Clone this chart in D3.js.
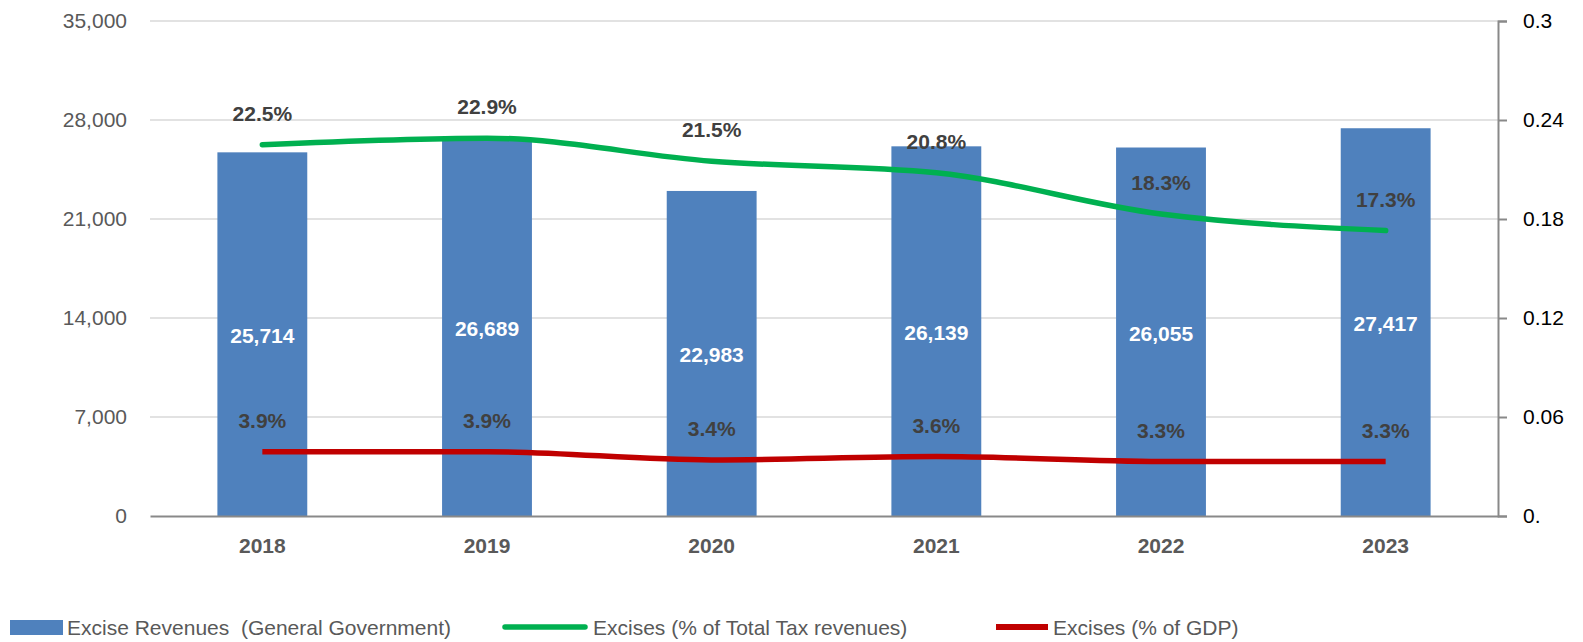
<!DOCTYPE html>
<html>
<head>
<meta charset="utf-8">
<script src="https://cdn.jsdelivr.net/npm/d3@7"></script>
<style>
  html, body { margin: 0; padding: 0; background: #fff; }
  svg { display: block; font-family: "Liberation Sans", Arial, sans-serif; }
  text { white-space: pre; }
</style>
</head>
<body>
<svg id="chart" width="1583" height="642"></svg>
<script>
const years = ["2018", "2019", "2020", "2021", "2022", "2023"];
const exciseRevenues = [25714, 26689, 22983, 26139, 26055, 27417];
const pctTotalTax = [0.225, 0.229, 0.215, 0.208, 0.183, 0.173];
const pctGDP = [0.039, 0.039, 0.034, 0.036, 0.033, 0.033];
const leftTicks = [0, 7000, 14000, 21000, 28000, 35000];
const rightTicks = [0, 0.06, 0.12, 0.18, 0.24, 0.3];
const rightTickLabels = ["0.", "0.06", "0.12", "0.18", "0.24", "0.3"];
const seriesNames = ["Excise Revenues  (General Government)", "Excises (% of Total Tax revenues)", "Excises (% of GDP)"];

const svg = d3.select("#chart");
const pLeft = 150, pRight = 1498, pTop = 21, pBottom = 516;

const x = d3.scaleBand().domain(years).range([pLeft, pRight]).paddingInner(0.6).paddingOuter(0.3);
const yL = d3.scaleLinear().domain([0, 35000]).range([pBottom, pTop]);
const yR = d3.scaleLinear().domain([0, 0.3]).range([pBottom, pTop]);

// gridlines
svg.append("g").selectAll("line").data(leftTicks.filter(d => d > 0)).join("line")
  .attr("x1", pLeft).attr("x2", pRight)
  .attr("y1", d => yL(d)).attr("y2", d => yL(d))
  .attr("stroke", "#d9d9d9").attr("stroke-width", 1.5);

// left axis labels
const axL = svg.append("g").attr("transform", `translate(${pLeft},0)`)
  .call(d3.axisLeft(yL).tickValues(leftTicks).tickSize(0).tickPadding(23).tickFormat(d3.format(",")));
axL.select(".domain").remove();
axL.selectAll("text").attr("font-size", 21).attr("fill", "#595959").attr("font-family", "Liberation Sans, Arial, sans-serif");

// bars
svg.append("g").selectAll("rect").data(years).join("rect")
  .attr("x", d => x(d)).attr("width", x.bandwidth())
  .attr("y", (d, i) => yL(exciseRevenues[i]))
  .attr("height", (d, i) => pBottom - yL(exciseRevenues[i]))
  .attr("fill", "#4f81bd");

// bottom axis
const axB = svg.append("g").attr("transform", `translate(0,${pBottom})`)
  .call(d3.axisBottom(x).tickSize(0).tickPadding(22));
axB.select(".domain").attr("stroke", "#898989").attr("stroke-width", 2);
axB.selectAll("text").attr("font-size", 21).attr("font-weight", "bold").attr("fill", "#595959").attr("font-family", "Liberation Sans, Arial, sans-serif");

// right axis
const axR = svg.append("g").attr("transform", `translate(${pRight},0)`)
  .call(d3.axisRight(yR).tickValues(rightTicks).tickSize(9).tickPadding(16)
    .tickFormat((d, i) => rightTickLabels[i]));
axR.select(".domain").attr("stroke", "#898989").attr("stroke-width", 2);
axR.selectAll(".tick line").attr("stroke", "#898989").attr("stroke-width", 2);
axR.selectAll("text").attr("font-size", 21).attr("fill", "#000").attr("font-family", "Liberation Sans, Arial, sans-serif");

const cx = d => x(d) + x.bandwidth() / 2;

// lines
const lineTot = d3.line().x((d, i) => cx(years[i])).y(d => yR(d)).curve(d3.curveMonotoneX);
svg.append("path").datum(pctTotalTax).attr("d", lineTot)
  .attr("fill", "none").attr("stroke", "#00b050").attr("stroke-width", 5.5).attr("stroke-linecap", "round");

const lineGdp = d3.line().x((d, i) => cx(years[i])).y(d => yR(d)).curve(d3.curveMonotoneX);
svg.append("path").datum(pctGDP).attr("d", lineGdp)
  .attr("fill", "none").attr("stroke", "#c00000").attr("stroke-width", 5.5);

// bar labels
svg.append("g").selectAll("text").data(years).join("text")
  .attr("x", d => cx(d))
  .attr("y", (d, i) => (yL(exciseRevenues[i]) + pBottom) / 2 + 9)
  .attr("text-anchor", "middle").attr("font-size", 21).attr("font-weight", "bold").attr("fill", "#fff")
  .text((d, i) => d3.format(",")(exciseRevenues[i]));

const pf = d3.format(".1%");
svg.append("g").selectAll("text").data(years).join("text")
  .attr("x", d => cx(d))
  .attr("y", (d, i) => yR(pctTotalTax[i]) - 31 + 7)
  .attr("text-anchor", "middle").attr("font-size", 21).attr("font-weight", "bold").attr("fill", "#404040")
  .text((d, i) => pf(pctTotalTax[i]));

svg.append("g").selectAll("text").data(years).join("text")
  .attr("x", d => cx(d))
  .attr("y", (d, i) => yR(pctGDP[i]) - 31 + 7)
  .attr("text-anchor", "middle").attr("font-size", 21).attr("font-weight", "bold").attr("fill", "#404040")
  .text((d, i) => pf(pctGDP[i]));

// legend
const lg = svg.append("g");
lg.append("rect").attr("x", 10).attr("y", 620).attr("width", 53).attr("height", 15).attr("fill", "#4f81bd");
lg.append("line").attr("x1", 505).attr("x2", 585).attr("y1", 627).attr("y2", 627)
  .attr("stroke", "#00b050").attr("stroke-width", 5.5).attr("stroke-linecap", "round");
lg.append("line").attr("x1", 996).attr("x2", 1048).attr("y1", 627).attr("y2", 627)
  .attr("stroke", "#c00000").attr("stroke-width", 6);
const legX = [67, 593, 1053];
lg.selectAll("text").data(seriesNames).join("text")
  .attr("x", (d, i) => legX[i]).attr("y", 635)
  .attr("font-size", 21).attr("fill", "#595959")
  .text(d => d);
</script>
</body>
</html>
